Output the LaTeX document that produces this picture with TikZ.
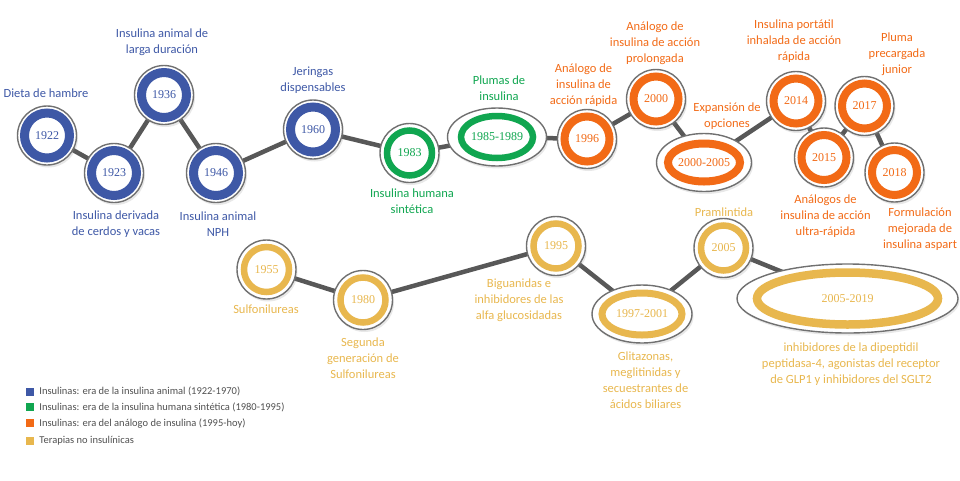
\documentclass[tikz,border=0pt]{standalone}
\usepackage{fontspec}
\setmainfont{Carlito}
\newfontfamily\yearfont{Liberation Serif}
\usetikzlibrary{shapes,positioning,calc,backgrounds,shadows}

\definecolor{animalBlue}{RGB}{62,88,166}
\definecolor{humanGreen}{RGB}{16,166,80}
\definecolor{analogOrange}{RGB}{242,106,22}
\definecolor{otherGold}{RGB}{232,183,78}
\definecolor{ringGray}{RGB}{112,112,112}
\definecolor{linkGray}{RGB}{88,88,88}
\definecolor{legendText}{RGB}{80,80,80}

\begin{document}
\begin{tikzpicture}
  [x=1pt, y=-1pt,
   ringNode/.style n args={4}{draw=ringGray, line width=1.4pt, fill=white,
     text=#1, font=\yearfont\fontsize{12}{14}\selectfont, inner sep=0pt,
     drop shadow={opacity=0.18, shadow xshift=1.5pt, shadow yshift=-2.5pt},
     path picture={\draw[#1, line width=#2]
       let \p1=(path picture bounding box.north east),
           \p2=(path picture bounding box.center)
       in (\p2) ellipse ({\x1-\x2-#3} and {\y1-\y2-#4});}},
   yrN/.style 2 args={circle, minimum size=59pt, ringNode={#1}{#2}{7pt}{7pt}},
   spanN/.style n args={4}{ellipse, ringNode={#1}{#2}{#3}{#4}},
   labelN/.style={align=center, inner sep=0pt, text=#1,
     font=\fontsize{12.5}{16}\selectfont},
   link/.style={draw=linkGray, line width=4.5pt},
   keyBox/.style={fill=#1, minimum size=8pt, inner sep=0pt},
   keyTxt/.style={inner sep=0pt, text=legendText, font=\fontsize{10.5}{12}\selectfont},
  ]
  \useasboundingbox (0,0) rectangle (960,480);

  % insulina animal
  \node[yrN={animalBlue}{9pt}] (y1922) at (47,135.5) {1922};
  \node[yrN={animalBlue}{9pt}] (y1923) at (114,173) {1923};
  \node[yrN={animalBlue}{9pt}] (y1936) at (164,95) {1936};
  \node[yrN={animalBlue}{9pt}] (y1946) at (216,173) {1946};
  \node[yrN={animalBlue}{9pt}] (y1960) at (313,129.5) {1960};

  % insulina humana
  \node[yrN={humanGreen}{6.5pt}] (y1983) at (409.5,153) {1983};
  \node[spanN={humanGreen}{6.5pt}{13.5pt}{8pt}, minimum width=99pt, minimum height=58pt]
    (y1985) at (497,137) {1985-1989};

  % analogos
  \node[yrN={analogOrange}{8pt}] (y1996) at (587,139) {1996};
  \node[yrN={analogOrange}{8pt}] (y2000) at (656,99) {2000};
  \node[spanN={analogOrange}{8pt}{11.5pt}{10pt}, minimum width=95pt, minimum height=58pt]
    (y2000b) at (704,162.5) {2000-2005};
  \node[yrN={analogOrange}{8pt}] (y2014) at (796,101) {2014};
  \node[yrN={analogOrange}{8pt}] (y2015) at (824,157.5) {2015};
  \node[yrN={analogOrange}{8pt}] (y2017) at (864.5,106) {2017};
  \node[yrN={analogOrange}{8pt}] (y2018) at (894.5,172.5) {2018};

  % no insulinicas
  \node[yrN={otherGold}{6.5pt}] (g1955) at (266.5,269.5) {1955};
  \node[yrN={otherGold}{6.5pt}] (g1980) at (363,300) {1980};
  \node[yrN={otherGold}{6.5pt}] (g1995) at (556,246) {1995};
  \node[spanN={otherGold}{7pt}{10pt}{8pt}, minimum width=100pt, minimum height=58pt]
    (g1997) at (642,314) {1997-2001};
  \node[yrN={otherGold}{6.5pt}] (g2005) at (723.5,248) {2005};
  \node[spanN={otherGold}{8.5pt}{20pt}{8.5pt}, minimum width=221pt, minimum height=69pt]
    (g2019) at (847.5,298.5) {2005-2019};

  \begin{scope}[on background layer]
    \draw[link] (y1922.center) -- (y1923.center) -- (y1936.center) -- (y1946.center)
      -- (y1960.center) -- (y1983.center) -- (y1985.center) -- (y1996.center)
      -- (y2000.center) -- (y2000b.center) -- (y2014.center) -- (y2015.center)
      -- (y2017.center) -- (y2018.center);
    \draw[link] (g1955.center) -- (g1980.center) -- (g1995.center) -- (g1997.center)
      -- (g2005.center) -- (g2019.center);
  \end{scope}

  % textos
  \node[labelN=animalBlue] (tDieta) at (46,93) {Dieta de hambre};
  \node[labelN=animalBlue] (tLarga) at (162,42) {Insulina animal de\\larga duración};
  \node[labelN=animalBlue] (tCerdos) at (116,224) {Insulina derivada\\de cerdos y vacas};
  \node[labelN=animalBlue] (tNPH) at (218,224) {Insulina animal\\NPH};
  \node[labelN=animalBlue] (tJeringas) at (313,80) {Jeringas\\dispensables};
  \node[labelN=humanGreen] (tPlumas) at (499,88) {Plumas de\\insulina};
  \node[labelN=humanGreen] (tHumana) at (412,201) {Insulina humana\\sintética};
  \node[labelN=analogOrange] (tRapida) at (583.5,85) {Análogo de\\insulina de\\acción rápida};
  \node[labelN=analogOrange] (tProlong) at (655,43) {Análogo de\\insulina de acción\\prolongada};
  \node[labelN=analogOrange] (tExpansion) at (727,116) {Expansión de\\opciones};
  \node[labelN=analogOrange] (tInhalada) at (794,41) {Insulina portátil\\inhalada de acción\\rápida};
  \node[labelN=analogOrange] (tJunior) at (897,54) {Pluma\\precargada\\junior};
  \node[labelN=analogOrange] (tUltra) at (825.5,216) {Análogos de\\insulina de acción\\ultra-rápida};
  \node[labelN=analogOrange] (tAspart) at (920,229) {Formulación\\mejorada de\\insulina aspart};
  \node[labelN=otherGold] (tSulfo) at (266,309) {Sulfonilureas};
  \node[labelN=otherGold] (tSegunda) at (363,358) {Segunda\\generación de\\Sulfonilureas};
  \node[labelN=otherGold] (tBiguan) at (519,300) {Biguanidas e\\inhibidores de las\\alfa glucosidadas};
  \node[labelN=otherGold] (tPram) at (724,212) {Pramlintida};
  \node[labelN=otherGold] (tGlitaz) at (645.5,380) {Glitazonas,\\meglitinidas y\\secuestrantes de\\ácidos biliares};
  \node[labelN=otherGold] (tDpp) at (851,364) {inhibidores de la dipeptidil\\peptidasa-4, agonistas del receptor\\de GLP1 y inhibidores del SGLT2};

  % leyenda
  \node[keyBox=animalBlue] (kAnimal) at (30,391.7) {};
  \node[keyBox=humanGreen] (kHumana) at (30,407.3) {};
  \node[keyBox=analogOrange] (kAnalog) at (30,423.3) {};
  \node[keyBox=otherGold] (kOtras) at (30,441) {};
  \node[keyTxt, right=5pt of kAnimal] (kAnimalTxt) {Insulinas: era de la insulina animal (1922-1970)};
  \node[keyTxt, right=5pt of kHumana] (kHumanaTxt) {Insulinas: era de la insulina humana sintética (1980-1995)};
  \node[keyTxt, right=5pt of kAnalog] (kAnalogTxt) {Insulinas: era del análogo de insulina (1995-hoy)};
  \node[keyTxt, right=5pt of kOtras] (kOtrasTxt) {Terapias no insulínicas};
\end{tikzpicture}
\end{document}
